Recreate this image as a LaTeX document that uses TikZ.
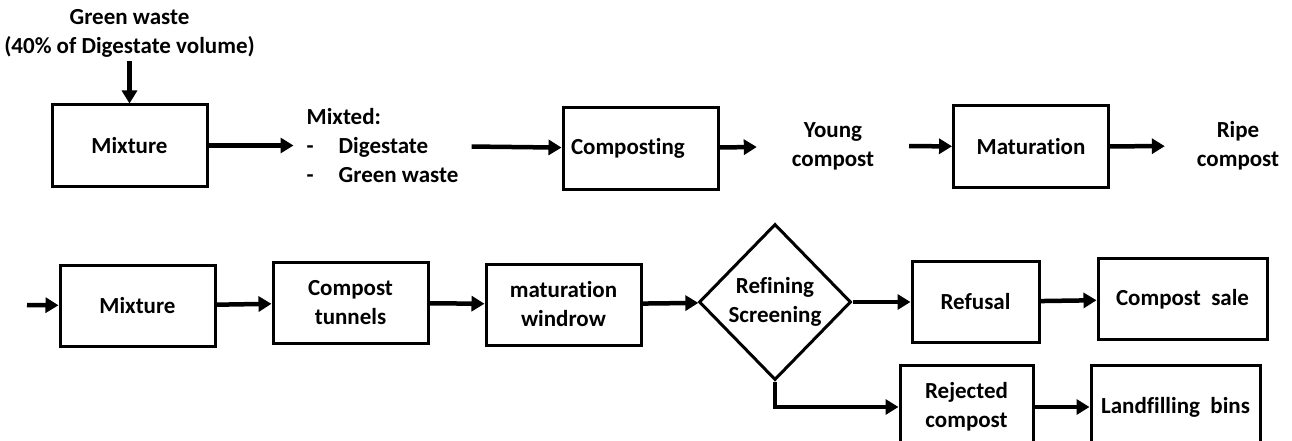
\documentclass[tikz,border=0pt]{standalone}
\usepackage{fontspec}
\setmainfont{Carlito}[Ligatures=NoCommon]
\usetikzlibrary{shapes.geometric,arrows.meta,positioning}
\tikzset{
	box/.style={draw=black,line width=3pt,minimum width=155pt,minimum height=81pt,align=center,inner sep=2pt},
	txt/.style={align=center,inner sep=0pt},
	flow/.style={line width=4.5pt,-{Triangle[length=13pt,width=15pt]}},
	test/.style={diamond,draw=black,line width=3pt,minimum width=152pt,minimum height=156pt,inner sep=0pt,align=center}
}
\begin{document}
\begin{tikzpicture}[x=1pt,y=-1pt,font=\fontsize{23}{29}\selectfont\bfseries]
		\useasboundingbox[fill=white] (0,0) rectangle (1292,441);
		% upper line
		\node[box] (mixA) at (129.5,145.5) {Mixture};
		\node[txt,above=46pt of mixA] (green) {Green waste\\(40\% of Digestate volume)};
		\node[txt,align=left,inner xsep=13pt,right=85pt of mixA] (mixted) {Mixted:\\\makebox[32pt][l]{-}Digestate\\\makebox[32pt][l]{-}Green waste};
		\node[box,text width=139pt,align=left] (compA) at (640.5,148.5) {Composting};
		\node[txt,minimum width=152pt] (young) at (833,146) {Young\\compost};
		\node[box] (matA) at (1031,146.5) {Maturation};
		\node[txt,minimum width=146pt] (ripe) at (1238,146) {Ripe\\compost};
		\draw[flow,shorten <=4pt] (green) -- (mixA);
		\draw[flow] (mixA) -- (mixted);
		\draw[flow] (mixted) -- (compA);
		\draw[flow] (compA) -- (young);
		\draw[flow] (young) -- (matA);
		\draw[flow] (matA) -- (ripe);
		% lower line
		\coordinate (in) at (27,305);
		\node[box] (mixB) at (137.5,306) {Mixture};
		\node[box,right=55pt of mixB,yshift=3.5pt] (tunB) {Compost\\tunnels};
		\node[box,right=55pt of tunB,yshift=-2pt] (winB) {maturation\\windrow};
		\node[test,right=55pt of winB,yshift=2.5pt] (screen) {Refining\\Screening};
		\node[box,minimum width=127pt,right=58pt of screen] (refB) {Refusal};
		\node[box,minimum width=169pt,right=56pt of refB,yshift=3pt] (saleB) {Compost\ \ sale};
		\node[box,minimum width=133pt,minimum height=84pt] (rejB) at (966.5,407) {Rejected\\compost};
		\node[box,minimum width=169pt,minimum height=84pt,right=55pt of rejB] (landB) {Landfilling\ \ bins};
		\draw[flow] (in) -- (mixB);
		\draw[flow] (mixB) -- (tunB);
		\draw[flow] (tunB) -- (winB);
		\draw[flow] (winB) -- (screen);
		\draw[flow] (screen) -- (refB);
		\draw[flow] (refB) -- (saleB);
		\draw[flow] (screen.south) |- (rejB);
		\draw[flow] (rejB) -- (landB);
\end{tikzpicture}
\end{document}
